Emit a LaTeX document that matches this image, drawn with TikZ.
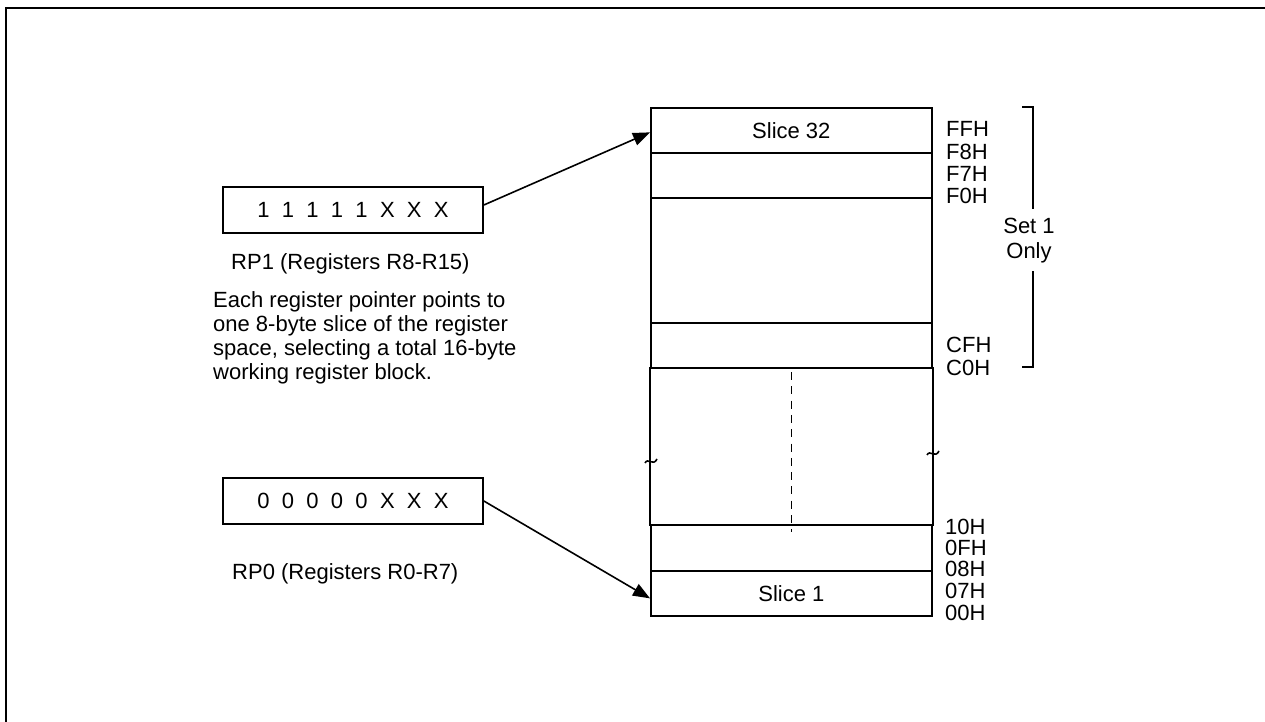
\documentclass[tikz,border=0pt]{standalone}
\usepackage{fontspec}
\setmainfont{Liberation Sans}
\usetikzlibrary{arrows.meta,calc}
\newcommand{\gp}{\hspace{12.3pt}}
\begin{document}
\begin{tikzpicture}[x=1pt,y=-1pt,
  txt/.style={font=\fontsize{22}{24}\selectfont, inner sep=0pt},
  cell/.style={draw, line width=1.7pt, minimum width=281pt, inner sep=0pt, anchor=north west, font=\fontsize{22}{24}\selectfont},
  regbox/.style={txt, draw, line width=1.7pt, minimum width=260pt, minimum height=46pt},
  ptr/.style={line width=1.6pt, -{Triangle[length=17pt,width=13pt]}},
  addr/.style={txt, anchor=base west},
  thin/.style={line width=1.7pt}
]
\useasboundingbox (0,0) rectangle (1265,722);
\draw[line width=2.2pt] (6,722) -- (6,8) -- (1265,8);

% register space
\node[cell, minimum height=45pt] (s32) at (650,107) {Slice 32};
\node[cell, minimum height=45pt] (f0) at (650,152) {};
\node[cell, minimum height=125pt] (big) at (650,197) {};
\node[cell, minimum height=45pt] (c0) at (650,322) {};
\node[cell, minimum height=157pt, draw=none] (gap) at (650,367) {};
\node[cell, minimum height=46pt] (r10) at (650,524) {};
\node[cell, minimum height=45pt] (s1) at (650,570) {Slice 1};
\draw[thin] (gap.north west) -- (gap.south west) (gap.north east) -- (gap.south east);
\draw[line width=1.5pt, dash pattern=on 8pt off 6.3pt] ($(gap.north)+(0,5)$) -- ($(r10.north)+(0,8)$);
% break marks
\draw[line width=1.6pt] (645,463) .. controls (648,457) and (653,467) .. (657,459);
\draw[line width=1.6pt] (927,455) .. controls (930,449) and (935,459) .. (939,451);

% addresses
\node[addr] (aFFH) at (946,137) {FFH};
\node[addr] (aF8H) at (946,160) {F8H};
\node[addr] (aF7H) at (946,182) {F7H};
\node[addr] (aF0H) at (946,203) {F0H};
\node[addr] (aCFH) at (946,352) {CFH};
\node[addr] (aC0H) at (946,375) {C0H};
\node[addr] (a10H) at (945,534) {10H};
\node[addr] (a0FH) at (945,555) {0FH};
\node[addr] (a08H) at (945,576) {08H};
\node[addr] (a07H) at (945,598) {07H};
\node[addr] (a00H) at (945,620) {00H};

% bracket
\node[txt, align=center, font=\fontsize{22}{25}\selectfont] (set1) at (1029,241) {Set 1\\Only};
\coordinate (bt) at (1022,107);
\coordinate (bb) at (1022,367);
\draw[thin] (bt) -- (1033,107) -- (1033,209);
\draw[thin] (1033,271) -- (1033,367) -- (bb);

% register pointers
\node[regbox] (rp1) at (353,210) {1\gp 1\gp 1\gp 1\gp 1\gp X\gp X\gp X};
\node[addr] (rp1lbl) at (231,269) {RP1 (Registers R8-R15)};
\node[regbox] (rp0) at (353,501) {0\gp 0\gp 0\gp 0\gp 0\gp X\gp X\gp X};
\node[addr] (rp0lbl) at (232,579) {RP0 (Registers R0-R7)};

\node[txt, anchor=north west, align=left] (note) at (213,291)
  {Each register pointer points to\\one 8-byte slice of the register\\space, selecting a total 16-byte\\working register block.};

\draw[ptr] ($(rp1.east)+(0,-5)$) -- ($(s32.west)+(0,2)$);
\draw[ptr] (rp0.east) -- ($(s1.west)+(0,5)$);
\end{tikzpicture}
\end{document}
